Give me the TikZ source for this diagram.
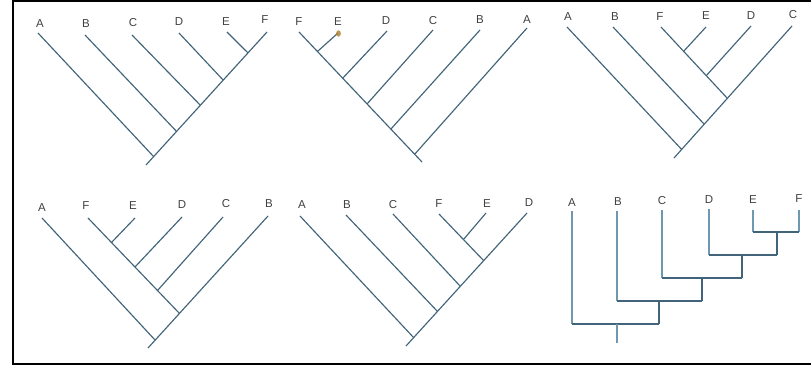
\documentclass[tikz,border=0pt]{standalone}
\usepackage{fontspec}
\setmainfont{Liberation Sans}
\usetikzlibrary{calc}
\begin{document}
\begin{tikzpicture}[x=1pt,y=-1pt,
  taxon/.style={inner sep=0pt,text=black!75,font=\fontsize{11.5}{13}\selectfont},
  branch/.style={draw=branchcol,line width=1.15pt},
  frame/.style={draw=black,line width=2.6pt}]
\definecolor{branchcol}{HTML}{42647A}
\definecolor{vbranch}{HTML}{6E98B2}
\useasboundingbox (0,0) rectangle (811,372);
\draw[frame] (811,1) -- (13,1) -- (13,364) -- (811,364);

% ---------- tree 1: A,(B,(C,(D,(E,F)))) ----------
\foreach \n/\x/\y in {A/40/24,B/86/24,C/133/23,D/179/22,E/226/22,F/265/20}
  \node[taxon] (l1\n) at (\x,\y) {\n};
\foreach \n/\x/\y in {A/38/33,B/85/35,C/132/35,D/179/33,E/227/32,F/267/32}
  \coordinate (t1\n) at (\x,\y);
\foreach \n/\x/\y in {A/153/156,B/175/130,C/199/104,D/222/79,E/247/52}
  \coordinate (g1\n) at (\x,\y);
\coordinate (r1) at (146,165);
\draw[branch] (r1) -- (t1F);
\foreach \n in {A,B,C,D,E}
  \draw[branch] (t1\n) -- ($(r1)!(g1\n)!(t1F)$);

% ---------- tree 2: mirrored ----------
\foreach \n/\x/\y in {F/299/22,E/338/22,D/386/21,C/433/21,B/480/20,A/527/20}
  \node[taxon] (l2\n) at (\x,\y) {\n};
\foreach \n/\x/\y in {F/299/32,E/338/33,D/387/31,C/433/30,B/480/30,A/527/28}
  \coordinate (t2\n) at (\x,\y);
\foreach \n/\x/\y in {E/319/50,D/344/77,C/368/103,B/392/128,A/416/153}
  \coordinate (g2\n) at (\x,\y);
\coordinate (r2) at (422,162);
\draw[branch] (t2F) -- (r2);
\foreach \n in {A,B,C,D,E}
  \draw[branch] (t2\n) -- ($(r2)!(g2\n)!(t2F)$);
\fill[brown!70!olive,opacity=0.8] (338.5,33.5) ellipse (2.4pt and 3.2pt);

% ---------- tree 3: A,(B,(((F,E),D),C)) ----------
\foreach \n/\x/\y in {A/568/17,B/615/17,F/660/17,E/706/16,D/751/16,C/793/15}
  \node[taxon] (l3\n) at (\x,\y) {\n};
\foreach \n/\x/\y in {A/567/27,B/613/27,F/661/27,E/706/27,D/751/26,C/792/26}
  \coordinate (t3\n) at (\x,\y);
\foreach \n/\x/\y in {A/680/148,B/704/124,F/727/98,E/684/51,D/707/75}
  \coordinate (g3\n) at (\x,\y);
\coordinate (r3) at (674,158);
\draw[branch] (r3) -- (t3C);
\foreach \n in {A,B,F}
  \draw[branch] (t3\n) -- ($(r3)!(g3\n)!(t3C)$);
\coordinate (k3) at ($(r3)!(g3F)!(t3C)$);
\foreach \n in {E,D}
  \draw[branch] (t3\n) -- ($(t3F)!(g3\n)!(k3)$);

% ---------- tree 4: A,((((F,E),D),C),B) ----------
\foreach \n/\x/\y in {A/42/208,F/86/206,E/133/206,D/182/205,C/226/204,B/269/204}
  \node[taxon] (l4\n) at (\x,\y) {\n};
\foreach \n/\x/\y in {A/42/218,F/88/218,E/135/218,D/182/217,C/223/217,B/268/216}
  \coordinate (t4\n) at (\x,\y);
\foreach \n/\x/\y in {A/155/340,F/179/313,E/112/242,D/135/267,C/157/291}
  \coordinate (g4\n) at (\x,\y);
\coordinate (r4) at (148,348);
\draw[branch] (r4) -- (t4B);
\foreach \n in {A,F}
  \draw[branch] (t4\n) -- ($(r4)!(g4\n)!(t4B)$);
\coordinate (k4) at ($(r4)!(g4F)!(t4B)$);
\foreach \n in {E,D,C}
  \draw[branch] (t4\n) -- ($(t4F)!(g4\n)!(k4)$);

% ---------- tree 5: A,(B,(C,((F,E),D))) ----------
\foreach \n/\x/\y in {A/302/205,B/347/205,C/393/205,F/439/204,E/487/204,D/529/203}
  \node[taxon] (l5\n) at (\x,\y) {\n};
\foreach \n/\x/\y in {A/300/216,B/346/215,C/393/214,F/439/214,E/486/213,D/527/213}
  \coordinate (t5\n) at (\x,\y);
\foreach \n/\x/\y in {A/413/337,B/437/311,C/460/286,F/483/260,E/464/239}
  \coordinate (g5\n) at (\x,\y);
\coordinate (r5) at (406,346);
\draw[branch] (r5) -- (t5D);
\foreach \n in {A,B,C,F}
  \draw[branch] (t5\n) -- ($(r5)!(g5\n)!(t5D)$);
\coordinate (k5) at ($(r5)!(g5F)!(t5D)$);
\draw[branch] (t5E) -- ($(t5F)!(g5E)!(k5)$);

% ---------- tree 6: rectangular cladogram ----------
\foreach \n/\x/\y in {A/572/203,B/618/202,C/662/201,D/709/200,E/753/200,F/799/199}
  \node[taxon] (l6\n) at (\x,\y) {\n};
\foreach \n/\x/\y in {A/572/211,B/617/211,C/662/210,D/709/209,E/753/210,F/799/210}
  \coordinate (t6\n) at (\x,\y);
\coordinate (h6EF) at (777,232);
\coordinate (h6DE) at (742,255);
\coordinate (h6CD) at (702,278);
\coordinate (h6BC) at (659,301);
\coordinate (h6AB) at (617,324);
\coordinate (r6) at (617,343);
\draw[branch,draw=vbranch] (t6E) -- (t6E |- h6EF);
\draw[branch,draw=vbranch] (t6F) -- (t6F |- h6EF);
\draw[branch] (t6E |- h6EF) -- (t6F |- h6EF);
\draw[branch,draw=vbranch] (t6D) -- (t6D |- h6DE);
\draw[branch] (h6EF) -- (h6EF |- h6DE);
\draw[branch] (t6D |- h6DE) -- (h6EF |- h6DE);
\draw[branch,draw=vbranch] (t6C) -- (t6C |- h6CD);
\draw[branch] (h6DE) -- (h6DE |- h6CD);
\draw[branch] (t6C |- h6CD) -- (h6DE |- h6CD);
\draw[branch,draw=vbranch] (t6B) -- (t6B |- h6BC);
\draw[branch] (h6CD) -- (h6CD |- h6BC);
\draw[branch] (t6B |- h6BC) -- (h6CD |- h6BC);
\draw[branch,draw=vbranch] (t6A) -- (t6A |- h6AB);
\draw[branch] (h6BC) -- (h6BC |- h6AB);
\draw[branch] (t6A |- h6AB) -- (h6BC |- h6AB);
\draw[branch,draw=vbranch] (h6AB) -- (r6);
\end{tikzpicture}
\end{document}
